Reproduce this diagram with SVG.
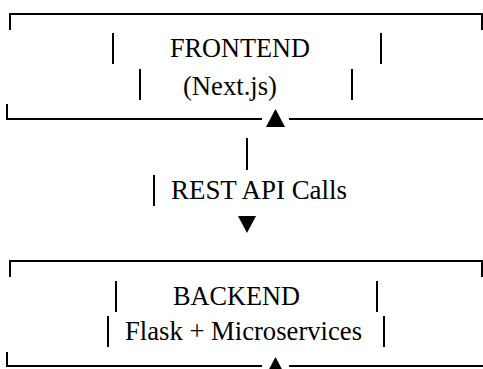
<svg xmlns="http://www.w3.org/2000/svg" width="483" height="369" viewBox="0 0 483 369">
<style>
.ln{stroke:#000;stroke-width:2;fill:none;stroke-linecap:butt}
.bar{stroke:#000;stroke-width:2}
text{font-family:'Liberation Serif','Tinos','Times New Roman','DejaVu Serif',serif;font-size:26.5px;fill:#000}
.hd{fill:#000}
</style>
<rect width="483" height="369" fill="#fff"/>
<g id="frontend">
<path class="ln" d="M10,30 V14 H482 V30"/>
<path class="ln" d="M7,104 V119 H262 M289,119 H483"/>
<line class="bar" x1="113" y1="33" x2="113" y2="64"/>
<line class="bar" x1="381" y1="33" x2="381" y2="64"/>
<line class="bar" x1="140" y1="69" x2="140" y2="100"/>
<line class="bar" x1="352" y1="69" x2="352" y2="100"/>
<text x="170" y="57" textLength="140" lengthAdjust="spacingAndGlyphs">FRONTEND</text>
<text x="183" y="95" textLength="94" lengthAdjust="spacingAndGlyphs">(Next.js)</text>
</g>
<g id="backend">
<path class="ln" d="M10,277 V261 H482 V277"/>
<path class="ln" d="M7,352 V366 H262 M289,366 H483"/>
<line class="bar" x1="116" y1="281" x2="116" y2="312"/>
<line class="bar" x1="377" y1="281" x2="377" y2="312"/>
<line class="bar" x1="108" y1="316" x2="108" y2="347"/>
<line class="bar" x1="384" y1="316" x2="384" y2="347"/>
<text x="173" y="305" textLength="127" lengthAdjust="spacingAndGlyphs">BACKEND</text>
<text x="125" y="340" textLength="237" lengthAdjust="spacingAndGlyphs">Flask + Microservices</text>
</g>
<g id="connectors">
<polygon class="hd" points="266,127 285,127 275.5,109"/>
<line class="bar" x1="247" y1="138" x2="247" y2="170"/>
<line class="bar" x1="154" y1="175" x2="154" y2="206"/>
<text x="171" y="199" textLength="176" lengthAdjust="spacingAndGlyphs">REST API Calls</text>
<polygon class="hd" points="238,216 256,216 247,233"/>
<polygon class="hd" points="266,375 285,375 275.5,357"/>
</g>
</svg>
